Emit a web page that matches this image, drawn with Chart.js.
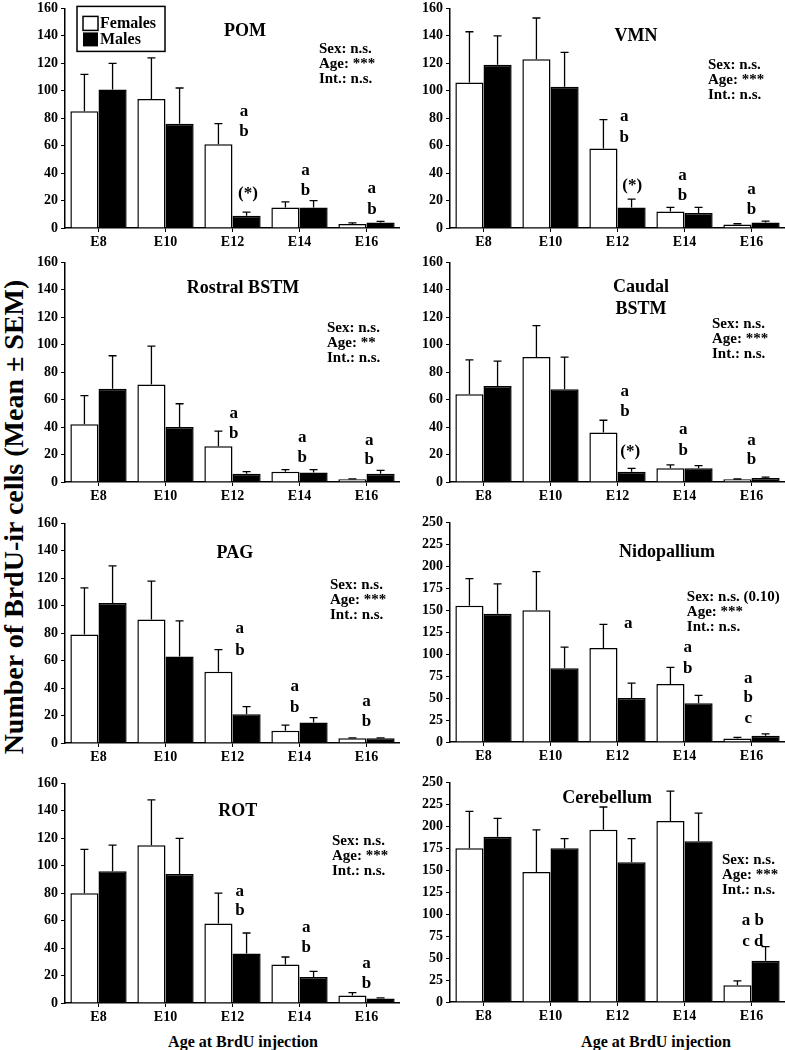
<!DOCTYPE html>
<html>
<head>
<meta charset="utf-8">
<script src="https://cdn.jsdelivr.net/npm/chart.js@4.4.0/dist/chart.umd.min.js"></script>
<style>
  body { margin: 0; background: #fff; width: 785px; height: 1050px; position: relative; overflow: hidden; font-family: "Liberation Serif", serif; }
  canvas { position: absolute; }
  .ylab { position: absolute; left: 14px; top: 517px; transform: translate(-50%, -50%) rotate(-90deg); font-weight: bold; font-size: 28px; white-space: nowrap; }
  .xlab { position: absolute; top: 1042px; transform: translate(-50%, -50%); font-weight: bold; font-size: 16px; white-space: nowrap; }
</style>
</head>
<body>
<div class="ylab">Number of BrdU-ir cells (Mean ± SEM)</div>
<div class="xlab" style="left:243px">Age at BrdU injection</div>
<div class="xlab" style="left:656px">Age at BrdU injection</div>

<canvas id="pom" width="375" height="259"></canvas>
<canvas id="vmn" width="375" height="259"></canvas>
<canvas id="rostral" width="375" height="259"></canvas>
<canvas id="caudal" width="375" height="259"></canvas>
<canvas id="pag" width="375" height="259"></canvas>
<canvas id="nido" width="375" height="259"></canvas>
<canvas id="rot" width="375" height="259"></canvas>
<canvas id="cereb" width="375" height="259"></canvas>

<script>
// ages at BrdU injection
var ages = ["E8", "E10", "E12", "E14", "E16"];

// means and SEM (females / males)
var pomF = [85, 94, 61, 15, 3];
var pomFsem = [27, 30, 15, 4, 0.7];
var pomM = [101, 76, 9, 15, 4];
var pomMsem = [19, 26, 2.5, 5, 0.8];

var vmnF = [106, 123, 58, 12, 2.5];
var vmnFsem = [37, 30, 21, 3, 0.6];
var vmnM = [119, 103, 15, 11, 4];
var vmnMsem = [21, 25, 6, 4, 1];

var rostralF = [42, 71, 26, 7.5, 2];
var rostralFsem = [21, 28, 11, 1.5, 0.3];
var rostralM = [68, 40, 6, 7, 6];
var rostralMsem = [24, 17, 1.5, 2, 2.5];

var caudalF = [64, 91, 36, 10, 2];
var caudalFsem = [25, 23, 9, 2.5, 0.2];
var caudalM = [70, 67.5, 7.5, 10, 3];
var caudalMsem = [18, 23.5, 2.5, 2, 0.5];

var pagF = [79, 90, 52, 9, 3.5];
var pagFsem = [34, 28, 16, 4, 0.3];
var pagM = [102, 63, 21, 15, 3.5];
var pagMsem = [27, 26, 5.5, 3.5, 0.3];

var nidoF = [155, 150, 107, 66, 4];
var nidoFsem = [31, 44, 27, 19, 1.2];
var nidoM = [146, 84, 50, 44, 7];
var nidoMsem = [34, 24, 17, 9, 2.3];

var rotF = [80, 115, 58, 28, 5.5];
var rotFsem = [32, 33, 22, 5.5, 2];
var rotM = [96, 94, 36, 19, 3.3];
var rotMsem = [19, 26, 15, 4, 0.5];

var cerebF = [175, 148, 196, 206, 19];
var cerebFsem = [42, 48, 26, 34, 5];
var cerebM = [188, 175, 159, 183, 47];
var cerebMsem = [21, 11, 27, 32, 16];

// ANOVA summaries
var statsStd = ["Sex: n.s.", "Age: ***", "Int.: n.s."];
var statsRostral = ["Sex: n.s.", "Age: **", "Int.: n.s."];
var statsNido = ["Sex: n.s. (0.10)", "Age: ***", "Int.: n.s."];

// post-hoc letters: category index, value level, text
var pomNotes = [[2, 85, "a"], [2, 70, "b"], [2, 25, "(*)"], [3, 42, "a"], [3, 27, "b"], [4, 28.5, "a"], [4, 13.5, "b"]];
var vmnNotes = [[2, 81, "a"], [2, 66, "b"], [2, 31, "(*)"], [3, 38.5, "a"], [3, 23.5, "b"], [4, 28, "a"], [4, 13.5, "b"]];
var rostralNotes = [[2, 50, "a"], [2, 35, "b"], [3, 32.5, "a"], [3, 18, "b"], [4, 30.5, "a"], [4, 16, "b"]];
var caudalNotes = [[2, 66, "a"], [2, 51, "b"], [2, 22, "(*)"], [3, 38, "a"], [3, 23, "b"], [4, 30, "a"], [4, 16, "b"]];
var pagNotes = [[2, 83, "a"], [2, 67.5, "b"], [3, 41, "a"], [3, 26, "b"], [4, 30, "a"], [4, 15.5, "b"]];
var nidoNotes = [[2, 135, "a"], [3, 107, "a"], [3, 84, "b"], [4, 72, "a"], [4, 50, "b"], [4, 26.5, "c"]];
var rotNotes = [[2, 81, "a"], [2, 67, "b"], [3, 55, "a"], [3, 40, "b"], [4, 29, "a"], [4, 14, "b"]];
var cerebNotes = [[4, 92.5, "a b"], [4, 68.3, "c d"]];

var FONT = "'Liberation Serif', 'Times New Roman', serif";

var errorBars = {
  id: 'errorBars',
  afterDatasetsDraw: function(chart) {
    var ctx = chart.ctx, y = chart.scales.y;
    chart.data.datasets.forEach(function(ds, i) {
      chart.getDatasetMeta(i).data.forEach(function(bar, j) {
        var top = y.getPixelForValue(ds.data[j] + ds.sem[j]);
        ctx.save();
        ctx.strokeStyle = '#000';
        ctx.lineWidth = 1.3;
        ctx.beginPath();
        ctx.moveTo(bar.x, bar.y);
        ctx.lineTo(bar.x, top);
        ctx.moveTo(bar.x - 4, top);
        ctx.lineTo(bar.x + 4, top);
        ctx.stroke();
        ctx.restore();
      });
    });
  }
};

var panelText = {
  id: 'panelText',
  afterDraw: function(chart, args, o) {
    var ctx = chart.ctx, a = chart.chartArea, x = chart.scales.x, y = chart.scales.y;
    var step = a.width / ages.length;
    ctx.save();
    ctx.fillStyle = '#000';
    // title
    ctx.font = 'bold 18px ' + FONT;
    ctx.textAlign = 'center';
    ctx.textBaseline = 'middle';
    o.title.forEach(function(t) {
      ctx.fillText(t[0], a.left + o.titleX * a.width, y.getPixelForValue(t[1]));
    });
    // stats
    ctx.font = 'bold 15px ' + FONT;
    ctx.textAlign = 'left';
    var sy = y.getPixelForValue(o.statsY);
    o.stats.forEach(function(s, i) {
      ctx.fillText(s, a.left + o.statsX * a.width, sy + i * 15);
    });
    // letters
    ctx.font = 'bold 17px ' + FONT;
    ctx.textAlign = 'center';
    o.notes.forEach(function(n) {
      var dx = (o.noteDx[n[0]] || 0) * step;
      if (n[2] === '(*)') dx = o.starDx * step;
      ctx.fillText(n[2], x.getPixelForValue(n[0]) + dx, y.getPixelForValue(n[1]));
    });
    // legend
    if (o.legend) {
      var lx = a.left + 12, ly = a.top - 2;
      ctx.lineWidth = 1.5;
      ctx.strokeStyle = '#000';
      ctx.strokeRect(lx, ly, 88, 45);
      ctx.fillStyle = '#fff';
      ctx.fillRect(lx + 6, ly + 10, 15, 14);
      ctx.strokeRect(lx + 6, ly + 10, 15, 14);
      ctx.fillStyle = '#000';
      ctx.fillRect(lx + 6, ly + 26, 15, 14);
      ctx.font = 'bold 16px ' + FONT;
      ctx.textAlign = 'left';
      ctx.fillText('Females', lx + 23, ly + 17);
      ctx.fillText('Males', lx + 23, ly + 33);
    }
    ctx.restore();
  }
};

function makePanel(id, left, plotTop, f, fsem, m, msem, ymax, ystep, txt) {
  var el = document.getElementById(id);
  el.style.left = left + 'px';
  el.style.top = (plotTop - 8) + 'px';
  var labStep = ystep * 2;
  new Chart(el.getContext('2d'), {
    type: 'bar',
    data: {
      labels: ages,
      datasets: [
        { label: 'Females', data: f, sem: fsem, backgroundColor: '#fff', borderColor: '#000', borderWidth: 1.5 },
        { label: 'Males', data: m, sem: msem, backgroundColor: '#000', borderColor: '#000', borderWidth: 1.5 }
      ]
    },
    options: {
      responsive: false,
      animation: false,
      layout: { padding: { top: 8, left: 0, right: 0, bottom: 0 } },
      datasets: { bar: { barPercentage: 1, categoryPercentage: 0.84 } },
      plugins: {
        legend: { display: false },
        tooltip: { enabled: false },
        panelText: txt
      },
      scales: {
        x: {
          grid: { drawOnChartArea: false, tickLength: 4, color: '#000', offset: false },
          border: { color: '#000', width: 1.5 },
          ticks: { color: '#000', padding: 2, font: { family: FONT, size: 14, weight: 'bold' } },
          afterFit: function(s) { s.height = 28; }
        },
        y: {
          min: 0,
          max: ymax,
          grid: { drawOnChartArea: false, tickLength: 4, color: '#000' },
          border: { color: '#000', width: 1.5 },
          ticks: {
            stepSize: ystep,
            color: '#000',
            padding: 3,
            font: { family: FONT, size: 14, weight: 'bold' },
            callback: function(v) { return (Math.abs(v / labStep - Math.round(v / labStep)) < 1e-6) ? v : ''; }
          },
          afterFit: function(s) { s.width = 40; }
        }
      }
    },
    plugins: [errorBars, panelText]
  });
}

makePanel('pom', 25, 5, pomF, pomFsem, pomM, pomMsem, 160, 10,
  { title: [['POM', 143]], titleX: 0.537, stats: statsStd, statsX: 0.758, statsY: 130,
    notes: pomNotes, noteDx: [0, 0, 0.17, 0.09, 0.08], starDx: 0.23, legend: true });
makePanel('vmn', 410, 5, vmnF, vmnFsem, vmnM, vmnMsem, 160, 10,
  { title: [['VMN', 140]], titleX: 0.555, stats: statsStd, statsX: 0.77, statsY: 119,
    notes: vmnNotes, noteDx: [0, 0, 0.1, -0.03, 0], starDx: 0.22 });
makePanel('rostral', 25, 259, rostralF, rostralFsem, rostralM, rostralMsem, 160, 10,
  { title: [['Rostral BSTM', 141]], titleX: 0.531, stats: statsRostral, statsX: 0.782, statsY: 112,
    notes: rostralNotes, noteDx: [0, 0, 0.02, 0.04, 0.04], starDx: 0.2 });
makePanel('caudal', 410, 259, caudalF, caudalFsem, caudalM, caudalMsem, 160, 10,
  { title: [['Caudal', 142], ['BSTM', 126]], titleX: 0.57, stats: statsStd, statsX: 0.782, statsY: 115,
    notes: caudalNotes, noteDx: [0, 0, 0.11, -0.02, 0], starDx: 0.19 });
makePanel('pag', 25, 520, pagF, pagFsem, pagM, pagMsem, 160, 10,
  { title: [['PAG', 138]], titleX: 0.507, stats: statsStd, statsX: 0.791, statsY: 115,
    notes: pagNotes, noteDx: [0, 0, 0.11, -0.07, 0], starDx: 0.2 });
makePanel('nido', 410, 519, nidoF, nidoFsem, nidoM, nidoMsem, 250, 12.5,
  { title: [['Nidopallium', 216]], titleX: 0.648, stats: statsNido, statsX: 0.707, statsY: 165,
    notes: nidoNotes, noteDx: [0, 0, 0.16, 0.05, -0.05], starDx: 0.2 });
makePanel('rot', 25, 780, rotF, rotFsem, rotM, rotMsem, 160, 10,
  { title: [['ROT', 140]], titleX: 0.516, stats: statsStd, statsX: 0.797, statsY: 118,
    notes: rotNotes, noteDx: [0, 0, 0.11, 0.1, 0], starDx: 0.2 });
makePanel('cereb', 410, 779, cerebF, cerebFsem, cerebM, cerebMsem, 250, 12.5,
  { title: [['Cerebellum', 232]], titleX: 0.469, stats: statsStd, statsX: 0.812, statsY: 161,
    notes: cerebNotes, noteDx: [0, 0, 0, 0, 0.02], starDx: 0.2 });
</script>
</body>
</html>
